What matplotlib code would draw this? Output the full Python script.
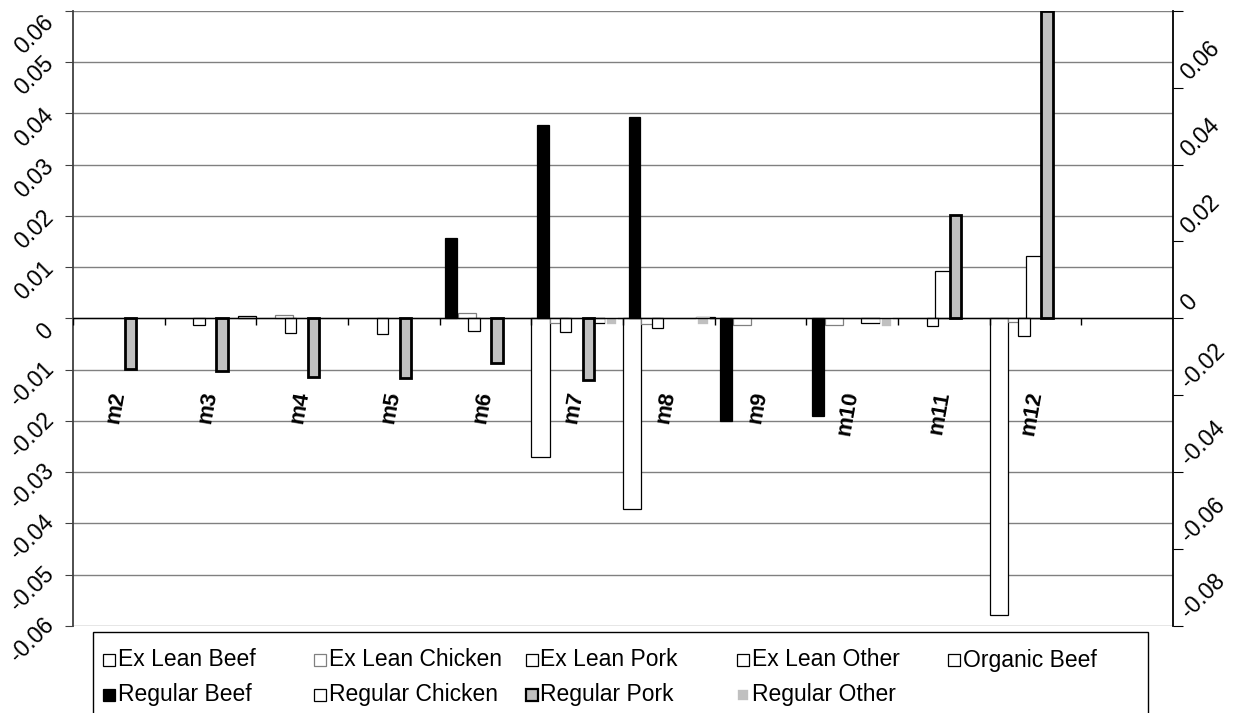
import matplotlib
matplotlib.use('Agg')
import matplotlib.pyplot as plt
import matplotlib.transforms as mtrans
from matplotlib.patches import Rectangle
import numpy as np

plt.rcParams['font.family'] = ['Liberation Sans', 'DejaVu Sans']

nan = np.nan
categories = ['m2', 'm3', 'm4', 'm5', 'm6', 'm7', 'm8', 'm9', 'm10', 'm11', 'm12', '']

# primary (left) axis series
ex_lean_beef    = [nan, nan, nan, nan, nan, -0.0271, -0.0372, nan, nan, nan, -0.0579, nan]
ex_lean_chicken = [nan, nan, 0.0006, nan, 0.0010, -0.0010, -0.0011, -0.0012, -0.0012, nan, -0.0008, nan]
ex_lean_pork    = [nan, nan, nan, nan, nan, nan, nan, nan, nan, 0.0092, 0.0122, nan]
ex_lean_other   = [nan, nan, nan, nan, nan, -0.0010, nan, nan, -0.0009, nan, nan, nan]
organic_beef    = [nan, 0.0004, nan, nan, nan, nan, 0.0002, nan, nan, nan, nan, nan]
# secondary (right) axis series
regular_beef    = [nan, nan, nan, nan, 0.0208, 0.0503, 0.0523, -0.0266, -0.0253, nan, nan, nan]
regular_chicken = [nan, -0.0016, -0.0037, -0.0041, -0.0032, -0.0035, -0.0026, nan, nan, -0.0021, -0.0047, nan]
regular_pork    = [-0.0131, -0.0136, -0.0153, -0.0155, -0.0116, -0.0160, nan, nan, nan, 0.0269, 0.0800, nan]
regular_other   = [nan, nan, nan, nan, nan, -0.0016, -0.0016, nan, -0.0022, nan, nan, nan]

left_ticks = [0.06, 0.05, 0.04, 0.03, 0.02, 0.01, 0, -0.01, -0.02, -0.03, -0.04, -0.05, -0.06]
right_ticks = [0.06, 0.04, 0.02, 0, -0.02, -0.04, -0.06, -0.08]

primary = [
    ('Ex Lean Beef', ex_lean_beef, dict(facecolor='white', edgecolor='black', linewidth=0.9)),
    ('Ex Lean Chicken', ex_lean_chicken, dict(facecolor='white', edgecolor='#808080', linewidth=0.9)),
    ('Ex Lean Pork', ex_lean_pork, dict(facecolor='white', edgecolor='black', linewidth=0.9)),
    ('Ex Lean Other', ex_lean_other, dict(facecolor='white', edgecolor='black', linewidth=0.9)),
    ('Organic Beef', organic_beef, dict(facecolor='white', edgecolor='black', linewidth=0.9)),
]
secondary = [
    ('Regular Beef', regular_beef, dict(facecolor='black', edgecolor='black', linewidth=0.9)),
    ('Regular Chicken', regular_chicken, dict(facecolor='white', edgecolor='black', linewidth=0.9)),
    ('Regular Pork', regular_pork, dict(facecolor='#C0C0C0', edgecolor='black', linewidth=2.0)),
    ('Regular Other', regular_other, dict(facecolor='#C0C0C0', edgecolor='white', linewidth=1.2)),
]

W, H = 1245, 713
fig = plt.figure(figsize=(W / 100, H / 100), dpi=100)
ax_l, ax_r, ax_t, ax_b = 73, 1173, 10.7, 626
ax = fig.add_axes([ax_l / W, 1 - ax_b / H, (ax_r - ax_l) / W, (ax_b - ax_t) / H])
ax2 = ax.twinx()

x = np.arange(len(categories))
ax.set_xlim(-0.5, len(categories) - 0.5)
ax.set_ylim(-0.06, 0.06)
ax2.set_ylim(-0.08, 0.08)

# primary bars: 5 series, gap 0
n1 = len(primary)
for j, (name, vals, st) in enumerate(primary):
    ax.bar(x - 0.5 + (j + 0.5) / n1, vals, width=1 / n1, zorder=2, **st)

# secondary bars: 4 series, spaced
for j, (name, vals, st) in enumerate(secondary):
    ax2.bar(x - 0.5 + 0.125 + 0.25 * j, vals, width=0.125, zorder=2, **st)

# gridlines
ax.set_yticks(left_ticks)
ax.grid(axis='y', color='#808080', linewidth=1.0)
ax.set_axisbelow(True)
ax.set_xticks([])
ax.tick_params(axis='y', direction='out', length=6, color='#404040', labelleft=False)

ax2.set_yticks(right_ticks + [0.08])
ax2.set_yticks([0.06, 0.02, -0.02, -0.06], minor=True)
ax2.tick_params(axis='y', which='major', direction='out', length=7, color='black', labelright=False)
ax2.tick_params(axis='y', which='minor', direction='in', length=7, color='black')

for s in ['top', 'bottom']:
    ax.spines[s].set_visible(False)
    ax2.spines[s].set_visible(False)
ax.spines['right'].set_visible(False)
ax2.spines['left'].set_visible(False)
ax.spines['left'].set_color('#404040')
ax.spines['left'].set_linewidth(1.3)
ax2.spines['right'].set_color('black')
ax2.spines['right'].set_linewidth(1.3)

# zero line / category axis with tick marks at category boundaries
ax2.axhline(0, color='black', linewidth=1.0, zorder=4)
ax2.vlines(np.arange(len(categories) + 1) - 0.5, -0.0016, 0, color='black', linewidth=1.0, zorder=1)

# left tick labels (rotated, bounding box right-aligned, centred a bit below the tick)
for v in left_ticks:
    top = v == left_ticks[0]
    ax.annotate(f"{v:g}", xy=(0, v), xycoords=('axes fraction', 'data'),
                xytext=(-15, 0 if top else -14), textcoords='offset pixels', rotation=45,
                ha='right', va='top' if top else 'center', fontsize=16.5)
for v in right_ticks:
    ax2.annotate(f"{v:g}", xy=(1, v), xycoords=('axes fraction', 'data'),
                 xytext=(20, 3), textcoords='offset pixels', rotation=45,
                 rotation_mode='anchor', ha='left', va='bottom', fontsize=16.5)

# category labels
lab_y = (ax_b - 391) / (ax_b - ax_t)
trans = mtrans.blended_transform_factory(ax.transData, ax.transAxes)
for i, c in enumerate(categories):
    ax.text(i, lab_y, c, transform=trans, rotation=80, rotation_mode='anchor',
            ha='right', va='center', fontsize=16, fontweight='bold')

# legend (manual, Excel-like)
def fx(px):
    return px / W

def fy(py):
    return 1 - py / H

fig.add_artist(Rectangle((fx(93), fy(715)), fx(1148) - fx(93), fy(632) - fy(715),
                         transform=fig.transFigure, facecolor='white', edgecolor='black',
                         linewidth=1.0))
items = primary + secondary
col_x = [103 + 211.25 * c for c in range(5)]
row_y = [660, 695]
for k, (name, vals, st) in enumerate(items):
    r, c = divmod(k, 5)
    x0, y0 = col_x[c], row_y[r]
    key = dict(st)
    key['linewidth'] = min(key['linewidth'], 1.6)
    fig.add_artist(Rectangle((fx(x0), fy(y0 + 6)), fx(12), 12 / H,
                             transform=fig.transFigure, **key))
    fig.text(fx(x0 + 15), fy(y0), name, fontsize=16.5, ha='left', va='center')

fig.savefig('out.png', dpi=100)
